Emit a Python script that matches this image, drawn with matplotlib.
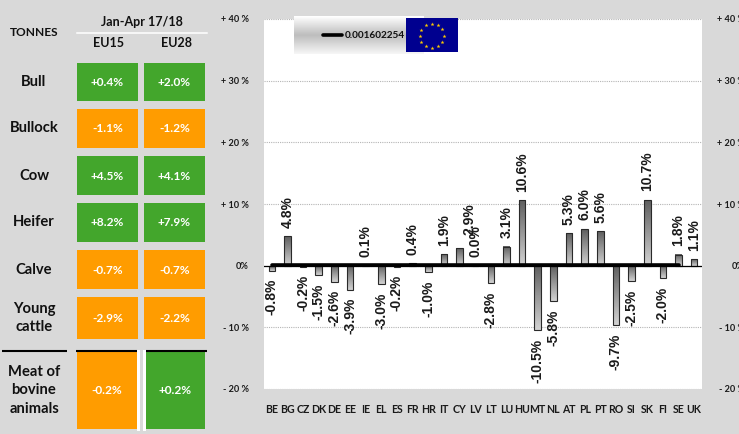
import numpy as np
import matplotlib
matplotlib.use('Agg')
import matplotlib.pyplot as plt
from matplotlib.patches import Rectangle
from matplotlib.colors import LinearSegmentedColormap

# chart data
countries = ['BE','BG','CZ','DK','DE','EE','IE','EL','ES','FR','HR','IT','CY','LV',
             'LT','LU','HU','MT','NL','AT','PL','PT','RO','SI','SK','FI','SE','UK']
changes = [-0.8,4.8,-0.2,-1.5,-2.6,-3.9,0.1,-3.0,-0.2,0.4,-1.0,1.9,2.9,0.0,
           -2.8,3.1,10.6,-10.5,-5.8,5.3,6.0,5.6,-9.7,-2.5,10.7,-2.0,1.8,1.1]
eu_line = [0.16] * 27
y_ticks = [-20,-10,0,10,20,30,40]
y_labels = ['- 20 %','- 10 %','0%','+ 10 %','+ 20 %','+ 30 %','+ 40 %']
legend_text = '0.001602254'

# table data
row_names = ['Bull','Bullock','Cow','Heifer','Calve','Young\ncattle','Meat of\nbovine\nanimals']
eu15 = [0.4,-1.1,4.5,8.2,-0.7,-2.9,-0.2]
eu28 = [2.0,-1.2,4.1,7.9,-0.7,-2.2,0.2]

W, H = 739, 434
BG = '#d9d9d9'
GREEN = '#43a62c'
ORANGE = '#ff9c00'
NARROW = 'Lato'

fig = plt.figure(figsize=(W/100, H/100), dpi=100, facecolor=BG)

# bar chart, position in pixels
ax = fig.add_axes([264/W, 1-389/H, (702-264)/W, (389-19)/H], facecolor='white')
x = np.arange(len(countries))
ax.set_xlim(-0.5, len(countries)-0.5)
ax.set_ylim(-20, 40)
ax.yaxis.grid(True, color='#b5b5b5', linestyle=(0,(1,1)), linewidth=0.8)
ax.set_axisbelow(True)
for s in ['top','left','right','bottom']:
    ax.spines[s].set_visible(False)

cmap = LinearSegmentedColormap.from_list('bar', ['#d2d2d2','#5f5f5f'])
bars = ax.bar(x, changes, width=0.42, facecolor='none', edgecolor='#2a2a2a', linewidth=0.8, zorder=3)
for b, v in zip(bars, changes):
    im = ax.imshow(np.linspace(1,0,50).reshape(-1,1), cmap=cmap, aspect='auto', zorder=2,
                   extent=[b.get_x(), b.get_x()+b.get_width(), 0, v], origin='upper' if v > 0 else 'lower')
ax.set_xlim(-0.5, len(countries)-0.5)
ax.set_ylim(-20, 40)

ax.axhline(0, color='black', linewidth=0.9, zorder=4)
ax.plot(np.arange(len(eu_line)), eu_line, color='black', linewidth=2.6, zorder=5, solid_capstyle='round')

ax.set_xticks(x)
ax.set_xticklabels(countries, family=NARROW, fontweight='bold', fontsize=7.6, color='#1a1a1a')
ax.tick_params(axis='x', length=0, pad=11)
ax.set_yticks(y_ticks)
ax.set_yticklabels(y_labels, family=NARROW, fontweight='bold', fontsize=6.6, color='#1a1a1a')
ax.tick_params(axis='y', length=0, pad=11)

ax2 = ax.twinx()
ax2.set_ylim(-20, 40)
ax2.set_yticks(y_ticks)
ax2.set_yticklabels(y_labels, family=NARROW, fontweight='bold', fontsize=6.6, color='#1a1a1a', ha='right')
ax2.tick_params(axis='y', length=0, pad=31)
for s in ['top','left','right','bottom']:
    ax2.spines[s].set_visible(False)

# CY and LV labels sit on top of each other in the original
nudge = {'CY': (7, 3)}
for c, i, v in zip(countries, x, changes):
    dx, dy = nudge.get(c, (0, 0))
    off = 6 if v >= 0 else -6
    ax.annotate('%.1f%%' % v, (i, v), xytext=(dx, off+dy), textcoords='offset points',
                rotation=90, ha='center', va='bottom' if v >= 0 else 'top',
                family='Liberation Sans', fontweight='bold', fontsize=10, color='#1a1a1a', zorder=6)

# overlay in pixel coordinates for table and legend
ov = fig.add_axes([0,0,1,1], facecolor='none')
ov.set_xlim(0, W)
ov.set_ylim(H, 0)
ov.axis('off')

def head(px, py, s, size=9.5):
    ov.text(px, py, s, ha='center', va='center', family=NARROW, fontweight='bold',
            fontsize=size, color='#111111', linespacing=1.45)

head(34, 33, 'TONNES', 8.6)
head(142, 22, 'Jan-Apr 17/18', 9.0)
head(108, 43, 'EU15', 9.0)
head(176, 43, 'EU28', 9.0)
ov.plot([77,207], [32.5,32.5], color='white', linewidth=1.1)

row_top = [63,109,156,203,250,297,352]
row_bot = [101,148,195,242,289,339,429]
for k, name in enumerate(row_names):
    top, bot = row_top[k], row_bot[k]
    head(34, (top+bot)/2, name, 10.6)
    for vals, x0, x1 in ((eu15, 77, 138), (eu28, 144, 205)):
        if k == 6:
            x0, x1 = (77, 137) if vals is eu15 else (146, 205)
        v = vals[k]
        ov.add_patch(Rectangle((x0, top), x1-x0, bot-top, facecolor=GREEN if v > 0 else ORANGE, edgecolor='none'))
        ov.text((x0+x1)/2, (top+bot)/2+0.5, '%+.1f%%' % v, ha='center', va='center', family=NARROW,
                fontweight='bold', fontsize=8.6, color='white')

for x0, x1 in ((2,67),(76,137),(146,207)):
    ov.plot([x0,x1], [351,351], color='black', linewidth=1.5, solid_capstyle='butt')
for x0 in (137,143):
    ov.add_patch(Rectangle((x0, 350), 3, 81, facecolor='white', edgecolor='none'))

# legend box with the flag
shade = LinearSegmentedColormap.from_list('lg', ['#ffffff','#bdbdbd','#f6f6f6'])
ov.imshow(np.linspace(0,1,60).reshape(-1,1), cmap=shade, aspect='auto', extent=[294,424,54,16], zorder=5)
ov.plot([323,342], [35,35], color='black', linewidth=2.6, zorder=6, solid_capstyle='round')
ov.text(345, 36, legend_text, ha='left', va='center', family=NARROW, fontweight='bold',
        fontsize=7.2, color='#111111', zorder=6)
ov.add_patch(Rectangle((406,18), 52, 34, facecolor='#00008f', edgecolor='none', zorder=7))
ang = np.deg2rad(np.arange(0,360,30))
ov.scatter(431.5+12*np.cos(ang), 35.5+12*np.sin(ang), marker='*', s=9, color='#ffcc00', linewidths=0, zorder=8)
ov.set_xlim(0, W)
ov.set_ylim(H, 0)

plt.savefig('out.png', dpi=100, facecolor=BG)
